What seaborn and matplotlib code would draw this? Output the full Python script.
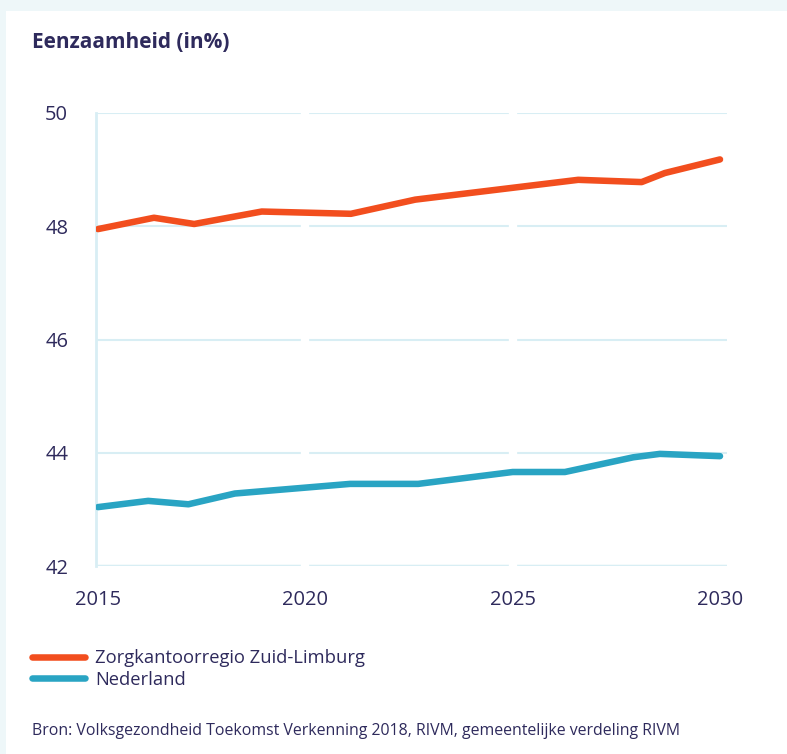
import pandas as pd
import matplotlib
matplotlib.use("Agg")
import matplotlib.pyplot as plt
import seaborn as sns

# ---------- Data ----------
zl_years = [2015.0, 2016.35, 2017.32, 2018.95, 2021.10, 2022.65, 2026.58, 2028.11, 2028.67, 2030.0]
zl_values = [47.95, 48.15, 48.04, 48.26, 48.22, 48.47, 48.82, 48.78, 48.94, 49.18]

nl_years = [2015.0, 2016.21, 2017.18, 2018.30, 2021.08, 2022.72, 2025.0, 2026.26, 2027.91, 2028.55, 2030.0]
nl_values = [43.04, 43.15, 43.09, 43.28, 43.45, 43.45, 43.66, 43.66, 43.92, 43.98, 43.94]

series_names = ["Zorgkantoorregio Zuid-Limburg", "Nederland"]
x_ticks = [2015, 2020, 2025, 2030]
y_ticks = [42, 44, 46, 48, 50]

TEXT = "#2e2a5c"
ORANGE = "#f24e1e"
BLUE = "#29a4c3"
GRID = "#d8eef4"
OUTER = "#eef7f9"

df = pd.concat([
    pd.DataFrame({"jaar": zl_years, "waarde": zl_values, "reeks": series_names[0]}),
    pd.DataFrame({"jaar": nl_years, "waarde": nl_values, "reeks": series_names[1]}),
])

sns.set_style("white")
plt.rcParams["font.family"] = ["Open Sans", "DejaVu Sans"]

W, H = 787, 754
fig = plt.figure(figsize=(W / 100, H / 100), dpi=100, facecolor=OUTER)

# white card
card = fig.add_axes([6 / W, 0, 1 - 6 / W, 1 - 11 / H])
card.set_facecolor("white")
card.set_xticks([])
card.set_yticks([])
for s in card.spines.values():
    s.set_visible(False)

ax = fig.add_axes([96 / W, 1 - 566 / H, (727 - 96) / W, (566 - 113) / H])
ax.set_facecolor("white")

sns.lineplot(
    data=df, x="jaar", y="waarde", hue="reeks", sort=False,
    palette={series_names[0]: ORANGE, series_names[1]: BLUE},
    linewidth=4.7, ax=ax, legend=False, zorder=3,
)
for ln in ax.lines:
    ln.set_solid_capstyle("round")
    ln.set_solid_joinstyle("round")

ax.set_xlim(2015 - 2 / 41.47, 2030 + 7 / 41.47)
ax.set_ylim(42, 50)
ax.set_xticks(x_ticks)
ax.set_yticks(y_ticks)
ax.set_xlabel("")
ax.set_ylabel("")

ax.set_axisbelow(True)
ax.grid(axis="y", color=GRID, linewidth=1.5)
ax.grid(axis="x", visible=False)
# bottom line is a bit heavier
ax.axhline(42, color=GRID, linewidth=2.5, zorder=0.6)
# white breaks in the gridlines at 2020 and 2025
for yr in [2020, 2025]:
    ax.axvline(yr, color="white", linewidth=6, zorder=1)

for side in ["top", "right", "bottom"]:
    ax.spines[side].set_visible(False)
ax.spines["left"].set_color(GRID)
ax.spines["left"].set_linewidth(2)
ax.spines["left"].set_zorder(2)

ax.tick_params(axis="both", length=0, labelsize=14.5, labelcolor=TEXT)
ax.tick_params(axis="y", pad=20)
ax.tick_params(axis="x", pad=17)

fig.text(32 / W, 1 - 42 / H, "Eenzaamheid (in%)", fontsize=15, fontweight="bold",
         color=TEXT, va="center", ha="left")

handles = [
    plt.Line2D([], [], color=ORANGE, linewidth=4.7, solid_capstyle="round"),
    plt.Line2D([], [], color=BLUE, linewidth=4.7, solid_capstyle="round"),
]
leg = fig.legend(
    handles, series_names, loc="upper left", bbox_to_anchor=(32 / W, 1 - 649 / H),
    frameon=False, fontsize=13.2, handlelength=2.9, handletextpad=0.55,
    labelspacing=0.2, borderpad=0, borderaxespad=0,
)
for t in leg.get_texts():
    t.set_color(TEXT)

fig.text(32 / W, 1 - 731 / H,
         "Bron: Volksgezondheid Toekomst Verkenning 2018, RIVM, gemeentelijke verdeling RIVM",
         fontsize=11.4, color=TEXT, va="center", ha="left")

fig.savefig("out.png", dpi=100, facecolor=OUTER)
